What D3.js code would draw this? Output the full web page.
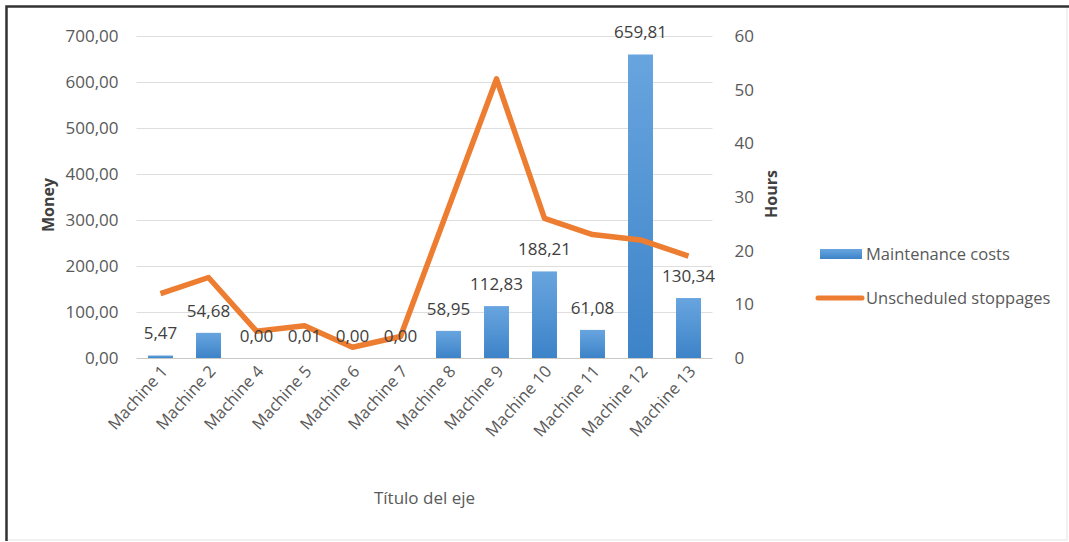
<!DOCTYPE html>
<html>
<head>
<meta charset="utf-8">
<script src="https://cdn.jsdelivr.net/npm/d3@7"></script>
<style>
  body { margin: 0; background: #fff; }
  text { font-family: "Open Sans", "Liberation Sans", sans-serif; }
</style>
</head>
<body>
<div id="chart"></div>
<script>
var machines = ["Machine 1", "Machine 2", "Machine 4", "Machine 5", "Machine 6", "Machine 7",
  "Machine 8", "Machine 9", "Machine 10", "Machine 11", "Machine 12", "Machine 13"];
var costs = [5.47, 54.68, 0.00, 0.01, 0.00, 0.00, 58.95, 112.83, 188.21, 61.08, 659.81, 130.34];
var stoppages = [12, 15, 5, 6, 2, 4, 28, 52, 26, 23, 22, 19];
var moneyTicks = [0, 100, 200, 300, 400, 500, 600, 700];
var hourTicks = [0, 10, 20, 30, 40, 50, 60];

var width = 1069, height = 542;
var plotLeft = 136.5, plotRight = 712.5, plotTop = 36, plotBottom = 358;

var svg = d3.select("#chart").append("svg")
    .attr("width", width).attr("height", height);

var defs = svg.append("defs");
var grad = defs.append("linearGradient").attr("id", "barGrad")
    .attr("x1", 0).attr("y1", 0).attr("x2", 0).attr("y2", 1);
grad.append("stop").attr("offset", "0%").attr("stop-color", "#68a5df");
grad.append("stop").attr("offset", "100%").attr("stop-color", "#3d83c8");

// chart frame
svg.append("rect").attr("x", 6).attr("y", 6).attr("width", 1061).attr("height", 534)
    .attr("fill", "#fff").attr("stroke", "#e4e4e4").attr("stroke-width", 1);
svg.append("path").attr("d", "M6.5,541 V6.5 H1069")
    .attr("fill", "none").attr("stroke", "#333").attr("stroke-width", 2.5);

var x = d3.scaleBand().domain(machines).range([plotLeft, plotRight]).paddingInner(0.48).paddingOuter(0.24);
var xc = d3.scalePoint().domain(machines).range([plotLeft, plotRight]).padding(0.5);
var yL = d3.scaleLinear().domain([0, 700]).range([plotBottom, plotTop]);
var yR = d3.scaleLinear().domain([0, 60]).range([plotBottom, plotTop]);

// gridlines
svg.append("g").selectAll("line").data(moneyTicks).join("line")
    .attr("x1", plotLeft).attr("x2", plotRight)
    .attr("y1", function(d) { return yL(d) + 0.5; })
    .attr("y2", function(d) { return yL(d) + 0.5; })
    .attr("stroke", function(d) { return d === 0 ? "#c8c8c8" : "#dedede"; })
    .attr("stroke-width", 1);

// left axis labels
var gl = svg.append("g").attr("transform", "translate(" + (plotLeft - 15) + ",0)")
    .call(d3.axisLeft(yL).tickValues(moneyTicks).tickSize(0)
      .tickFormat(function(d) { return d3.format(".2f")(d).replace(".", ","); }));
gl.select(".domain").remove();
gl.selectAll("text").attr("fill", "#595959").style("font-size", "17px");

// right axis labels
var gr = svg.append("g").attr("transform", "translate(" + (plotRight + 19) + ",0)")
    .call(d3.axisRight(yR).tickValues(hourTicks).tickSize(0));
gr.select(".domain").remove();
gr.selectAll("text").attr("fill", "#595959").style("font-size", "17px");

// bars
svg.append("g").selectAll("rect").data(costs).join("rect")
    .attr("x", function(d, i) { return x(machines[i]); })
    .attr("width", x.bandwidth())
    .attr("y", function(d) { return yL(d); })
    .attr("height", function(d) { return plotBottom - yL(d); })
    .attr("fill", "url(#barGrad)");

// line
var line = d3.line()
    .x(function(d, i) { return xc(machines[i]); })
    .y(function(d) { return yR(d); });
svg.append("path").datum(stoppages)
    .attr("d", line)
    .attr("fill", "none").attr("stroke", "#ed7d31").attr("stroke-width", 5.5)
    .attr("stroke-linejoin", "round").attr("stroke-linecap", "butt");

// data labels
svg.append("g").selectAll("text").data(costs).join("text")
    .attr("x", function(d, i) { return xc(machines[i]); })
    .attr("y", function(d) { return yL(d) - 16; })
    .attr("text-anchor", "middle")
    .attr("fill", "#404040").style("font-size", "17px")
    .text(function(d) { return d3.format(".2f")(d).replace(".", ","); });

// x labels
svg.append("g").selectAll("text").data(machines).join("text")
    .attr("transform", function(d) { return "translate(" + (xc(d) + 8) + ",372) rotate(-48)"; })
    .attr("text-anchor", "end")
    .attr("fill", "#595959").style("font-size", "16.5px")
    .text(function(d) { return d; });

// axis titles
svg.append("text").attr("x", (plotLeft + plotRight) / 2).attr("y", 504)
    .attr("text-anchor", "middle").attr("fill", "#595959").style("font-size", "17px")
    .text("Título del eje");
svg.append("text").attr("transform", "translate(54,205) rotate(-90)")
    .attr("text-anchor", "middle").attr("fill", "#404040").style("font-size", "16px")
    .style("font-weight", "bold").text("Money");
svg.append("text").attr("transform", "translate(777,194) rotate(-90)")
    .attr("text-anchor", "middle").attr("fill", "#404040").style("font-size", "16px")
    .style("font-weight", "bold").text("Hours");

// legend
var legend = svg.append("g");
legend.append("rect").attr("x", 820).attr("y", 249).attr("width", 42).attr("height", 10)
    .attr("fill", "url(#barGrad)");
legend.append("text").attr("x", 866).attr("y", 260).attr("fill", "#595959")
    .style("font-size", "16.5px").text("Maintenance costs");
legend.append("line").attr("x1", 818).attr("x2", 862).attr("y1", 298).attr("y2", 298)
    .attr("stroke", "#ed7d31").attr("stroke-width", 5).attr("stroke-linecap", "round");
legend.append("text").attr("x", 866).attr("y", 304).attr("fill", "#595959")
    .style("font-size", "16.5px").text("Unscheduled stoppages");
</script>
</body>
</html>
